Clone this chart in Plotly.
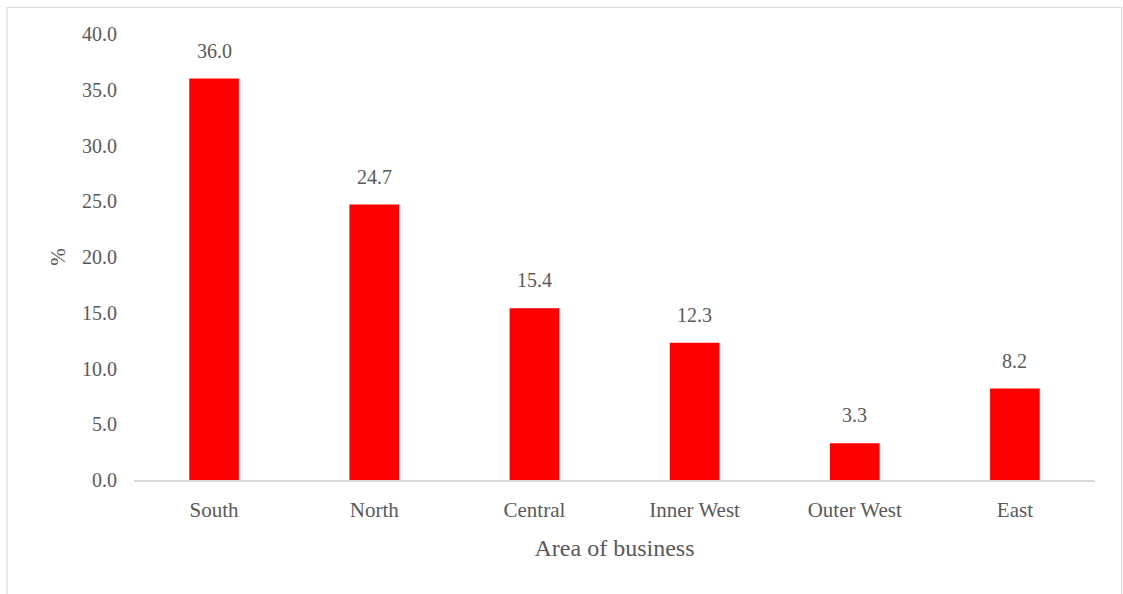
import plotly.graph_objects as go

categories = ["South", "North", "Central", "Inner West", "Outer West", "East"]
values = [36.0, 24.7, 15.4, 12.3, 3.3, 8.2]
y_ticks = [0, 5, 10, 15, 20, 25, 30, 35, 40]

FONT = "Liberation Serif, Times New Roman, serif"
GRAY = "#595959"

W, H = 1123, 594
ML, MR, MT, MB = 134, 28, 34, 114

fig = go.Figure()
fig.add_trace(go.Bar(
    x=categories, y=values,
    marker=dict(color="#ff0000", line=dict(width=0)),
    hoverinfo="x+y",
))

for c, v in zip(categories, values):
    fig.add_annotation(x=c, y=v, text=f"{v:.1f}", showarrow=False,
                       yshift=28, font=dict(family=FONT, size=20, color=GRAY))

pw = W - ML - MR
ph = H - MT - MB
fig.add_shape(type="rect", xref="paper", yref="paper",
              x0=(7 - ML) / pw, x1=(1121.5 - ML) / pw,
              y0=-(600 - MT - ph) / ph, y1=1 + (MT - 7.5) / ph,
              line=dict(color="#d9d9d9", width=1.2), layer="below")

fig.update_layout(
    width=W, height=H,
    margin=dict(l=ML, r=MR, t=MT, b=MB),
    paper_bgcolor="white", plot_bgcolor="white",
    bargap=0.69,
    showlegend=False,
    font=dict(family=FONT, size=20, color=GRAY),
    xaxis=dict(
        showline=True, linecolor="#d9d9d9", linewidth=1.5,
        showgrid=False, ticks="", ticklabelstandoff=10,
        tickfont=dict(family=FONT, size=21, color=GRAY),
        title=dict(text="Area of business", standoff=18,
                   font=dict(family=FONT, size=24, color=GRAY)),
    ),
    yaxis=dict(
        range=[0, 40], tickvals=y_ticks, tickformat=".1f",
        showline=False, showgrid=False, zeroline=False, ticks="",
        ticklabelstandoff=16,
        tickfont=dict(family=FONT, size=20, color=GRAY),
        title=dict(text="%", standoff=10,
                   font=dict(family=FONT, size=21, color=GRAY)),
    ),
)

fig.write_html("out.html", config={"displayModeBar": False},
               post_script="document.body.style.margin='0';document.body.style.overflow='hidden';")
